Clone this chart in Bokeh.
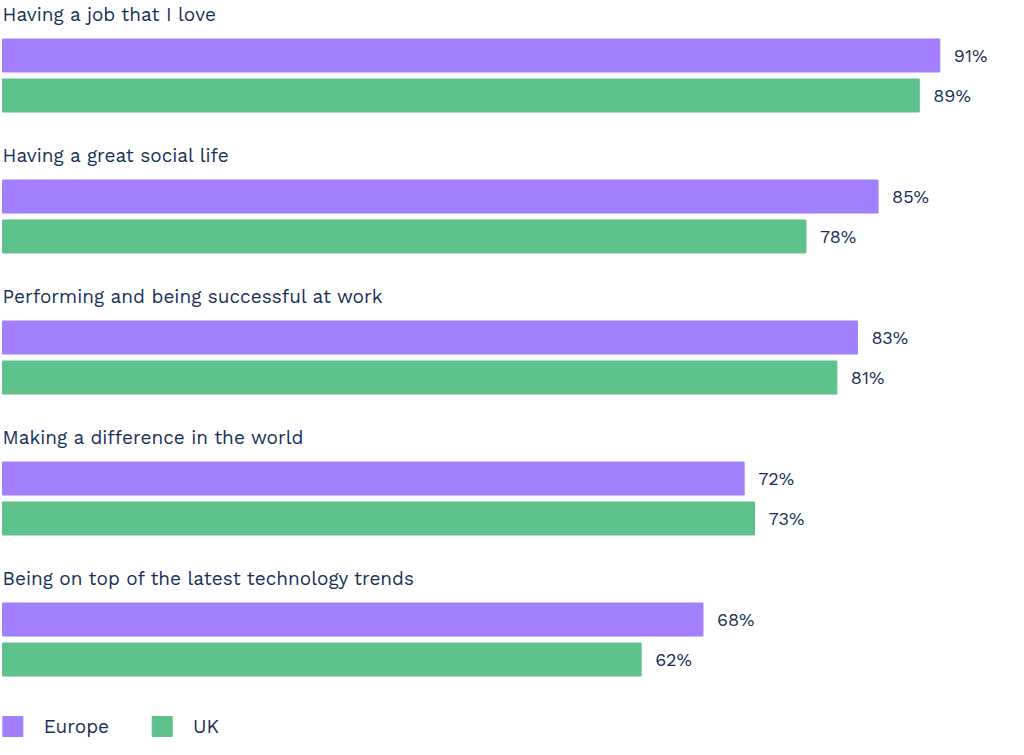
from bokeh.plotting import figure
from bokeh.models import Range1d, ColumnDataSource
from bokeh.core.properties import value
from bokeh.embed import file_html
from bokeh.resources import INLINE

categories = ["Having a job that I love", "Having a great social life",
              "Performing and being successful at work", "Making a difference in the world",
              "Being on top of the latest technology trends"]
europe = [91, 85, 83, 72, 68]
uk = [89, 78, 81, 73, 62]
series = ["Europe", "UK"]
colors = ["#A27FFF", "#5CC18A"]
TXT = "#17305A"
FONT = value("Work Sans, Inter")

W, H = 1008, 739
pxpc = 10.3
xr = Range1d(-0.2, W / pxpc - 0.2)
p = figure(width=W, height=H, x_range=xr, y_range=Range1d(H, 0),
           output_backend="svg", toolbar_location=None, min_border=0)
p.axis.visible = False
p.grid.visible = False
p.outline_line_color = None

gap = 141
lab_y = [14 + i * gap for i in range(5)]
eu_y = [55 + i * gap for i in range(5)]
uk_y = [95 + i * gap for i in range(5)]

p.text(x=[0] * 5, y=lab_y, text=categories, text_font=FONT, text_font_size="19px",
       text_color=TXT, text_baseline="middle")
for vals, ys, c in [(europe, eu_y, colors[0]), (uk, uk_y, colors[1])]:
    src = ColumnDataSource(dict(y=ys, v=vals, t=[f"{v}%" for v in vals]))
    p.hbar(y="y", left=0, right="v", height=33, color=c, source=src)
    p.text(x="v", y="y", text="t", x_offset=14, source=src, text_font=FONT,
           text_font_size="18px", text_color=TXT, text_baseline="middle")

# legend
lx = [1.0, 15.5]
p.scatter(x=lx, y=[726, 726], marker="square", size=20, color=colors)
p.text(x=[l + 3.0 for l in lx], y=[726, 726], text=series, text_font=FONT,
       text_font_size="19px", text_color=TXT, text_baseline="middle")

open("out.html", "w").write(file_html(p, INLINE))
